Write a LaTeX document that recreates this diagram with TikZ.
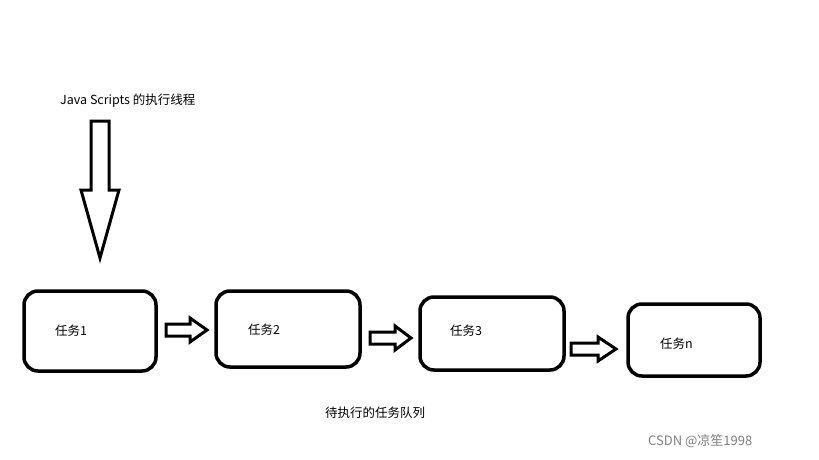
\documentclass[tikz,border=0pt]{standalone}
\usepackage{fontspec}
\setmainfont{Noto Sans CJK SC}
\begin{document}
\begin{tikzpicture}[x=1pt,y=-1pt,
  task/.style={draw,line width=3.5pt,rounded corners=14pt},
  lbl/.style={font=\fontsize{12.5}{14}\selectfont,anchor=west,inner sep=0},
  fat/.style={draw,line width=3pt,fill=white,line join=miter}]
\useasboundingbox (0,0) rectangle (819,460);
\fill[white] (0,0) rectangle (819,460);
\draw[task] (24,291) rectangle (156,371);
\draw[task] (216,291) rectangle (360,367);
\draw[task] (420,297) rectangle (564,370);
\draw[task] (628,304) rectangle (760,376);
\node[lbl] (t1) at (55,331) {任务1};
\node[lbl] (t2) at (248,330) {任务2};
\node[lbl] (t3) at (450,331) {任务3};
\node[lbl] (tn) at (660,344) {任务n};
\node[lbl] (js) at (60,101) {Java Scripts 的执行线程};
\node[lbl,anchor=center] (q) at (375,413) {待执行的任务队列};
\node[lbl,text=gray,font=\fontsize{13}{15}\selectfont] (w) at (648,441) {CSDN @凉笙1998};
% big down arrow
\draw[fat] (91,121) -- (109,121) -- (109,190) -- (119,190) -- (100,258) -- (81,190) -- (91,190) -- cycle;
% small arrows
\draw[fat] (166,324) -- (190,324) -- (190,318) -- (207,330) -- (190,342) -- (190,336) -- (166,336) -- cycle;
\draw[fat] (370,332) -- (395,332) -- (395,326) -- (411,338) -- (395,350) -- (395,344) -- (370,344) -- cycle;
\draw[fat] (571,343) -- (598,343) -- (598,337) -- (616,349) -- (598,361) -- (598,355) -- (571,355) -- cycle;
\end{tikzpicture}
\end{document}
